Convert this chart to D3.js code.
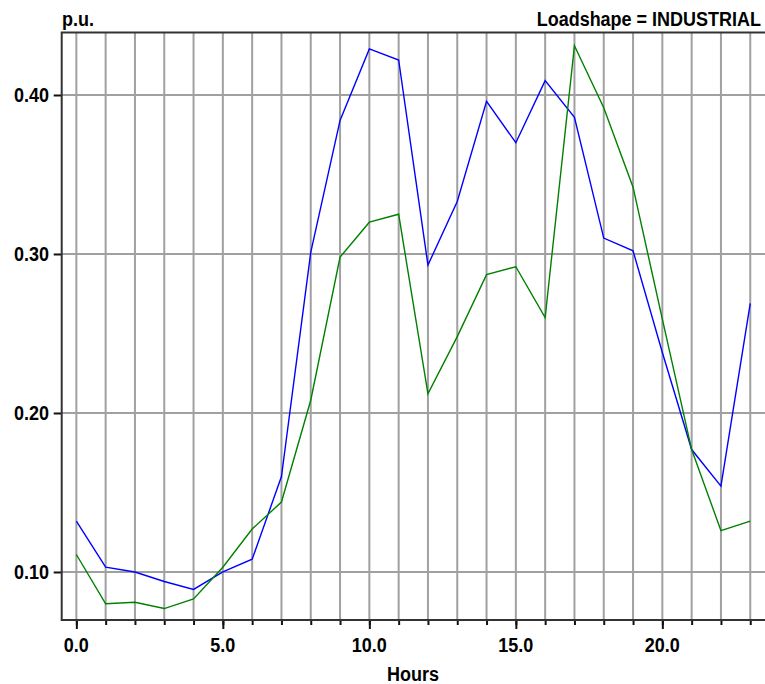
<!DOCTYPE html>
<html>
<head>
<meta charset="utf-8">
<script src="https://cdn.jsdelivr.net/npm/d3@7"></script>
<style>
  html, body { margin: 0; padding: 0; background: #fff; }
  svg { display: block; }
  text { font-family: "Liberation Sans", Arial, sans-serif; font-weight: bold; fill: #000; }
</style>
</head>
<body>
<svg id="chart" width="765" height="684"></svg>
<script>
const hours = d3.range(0, 24);
const blueSeries = [0.132, 0.103, 0.100, 0.094, 0.089, 0.100, 0.108, 0.160, 0.301, 0.384,
                    0.429, 0.422, 0.293, 0.333, 0.396, 0.370, 0.409, 0.386, 0.310, 0.302,
                    0.238, 0.177, 0.154, 0.269];
const greenSeries = [0.111, 0.080, 0.081, 0.077, 0.083, 0.103, 0.127, 0.144, 0.208, 0.298,
                     0.320, 0.325, 0.212, 0.248, 0.287, 0.292, 0.260, 0.431, 0.392, 0.342,
                     0.259, 0.177, 0.126, 0.132];
const yTicks = [0.10, 0.20, 0.30, 0.40];
const xMajorTicks = [0, 5, 10, 15, 20];
const titleText = "Loadshape = INDUSTRIAL";
const yUnitText = "p.u.";
const xAxisTitle = "Hours";

(function () {
const svg = d3.select("#chart");
const pLeft = 61.7, pRight = 766, pTop = 32.5, pBottom = 620;

const x = d3.scaleLinear().domain([-0.5, 23.5]).range([pLeft, pLeft + 29.3 * 24]);
const y = d3.scaleLinear().domain([0.0698, 0.4393]).range([pBottom, pTop]);

// grid
const grid = svg.append("g");
grid.selectAll("line.v").data(hours).join("line").attr("class", "v")
  .attr("x1", d => x(d)).attr("x2", d => x(d))
  .attr("y1", pTop).attr("y2", pBottom)
  .attr("stroke", "#a0a0a0").attr("stroke-width", 2);
grid.selectAll("line.h").data(yTicks).join("line").attr("class", "h")
  .attr("x1", pLeft).attr("x2", pRight)
  .attr("y1", d => y(d)).attr("y2", d => y(d))
  .attr("stroke", "#a0a0a0").attr("stroke-width", 2);

// axes via d3 axis for ticks
const xMinor = d3.axisBottom(x).tickValues(hours).tickSize(5).tickFormat("");
const xMajor = d3.axisBottom(x).tickValues(xMajorTicks).tickSize(9).tickFormat("");
const gxm = svg.append("g").attr("transform", `translate(0,${pBottom})`).call(xMinor);
const gxM = svg.append("g").attr("transform", `translate(0,${pBottom})`).call(xMajor);
[gxm, gxM].forEach(g => {
  g.select(".domain").remove();
  g.selectAll(".tick line").attr("stroke", "#111").attr("stroke-width", 2);
});
const yAx = d3.axisLeft(y).tickValues(yTicks).tickSize(8).tickFormat("");
const gy = svg.append("g").attr("transform", `translate(${pLeft},0)`).call(yAx);
gy.select(".domain").remove();
gy.selectAll(".tick line").attr("stroke", "#111").attr("stroke-width", 2);

// lines
const line = d3.line().x((d, i) => x(hours[i])).y(d => y(d));
svg.append("path").datum(blueSeries).attr("d", line)
  .attr("fill", "none").attr("stroke", "#0000ff").attr("stroke-width", 1.4);
svg.append("path").datum(greenSeries).attr("d", line)
  .attr("fill", "none").attr("stroke", "#008000").attr("stroke-width", 1.4);

// frame
svg.append("rect").attr("x", pLeft).attr("y", pTop)
  .attr("width", pRight - pLeft).attr("height", pBottom - pTop)
  .attr("fill", "none").attr("stroke", "#333").attr("stroke-width", 2);

// labels (slightly tall font)
function label(txt, tx, ty, anchor) {
  svg.append("text")
    .attr("transform", `translate(${tx},${ty}) scale(1,1.13)`)
    .attr("text-anchor", anchor)
    .attr("font-size", 18)
    .text(txt);
}
yTicks.forEach(v => label(d3.format(".2f")(v), 49, y(v) + 7.5, "end"));
xMajorTicks.forEach(v => label(d3.format(".1f")(v), x(v), 652, "middle"));
label(yUnitText, 62, 26, "start");
label(titleText, 761, 26, "end");
label(xAxisTitle, 413, 681, "middle");
})();
</script>
</body>
</html>
